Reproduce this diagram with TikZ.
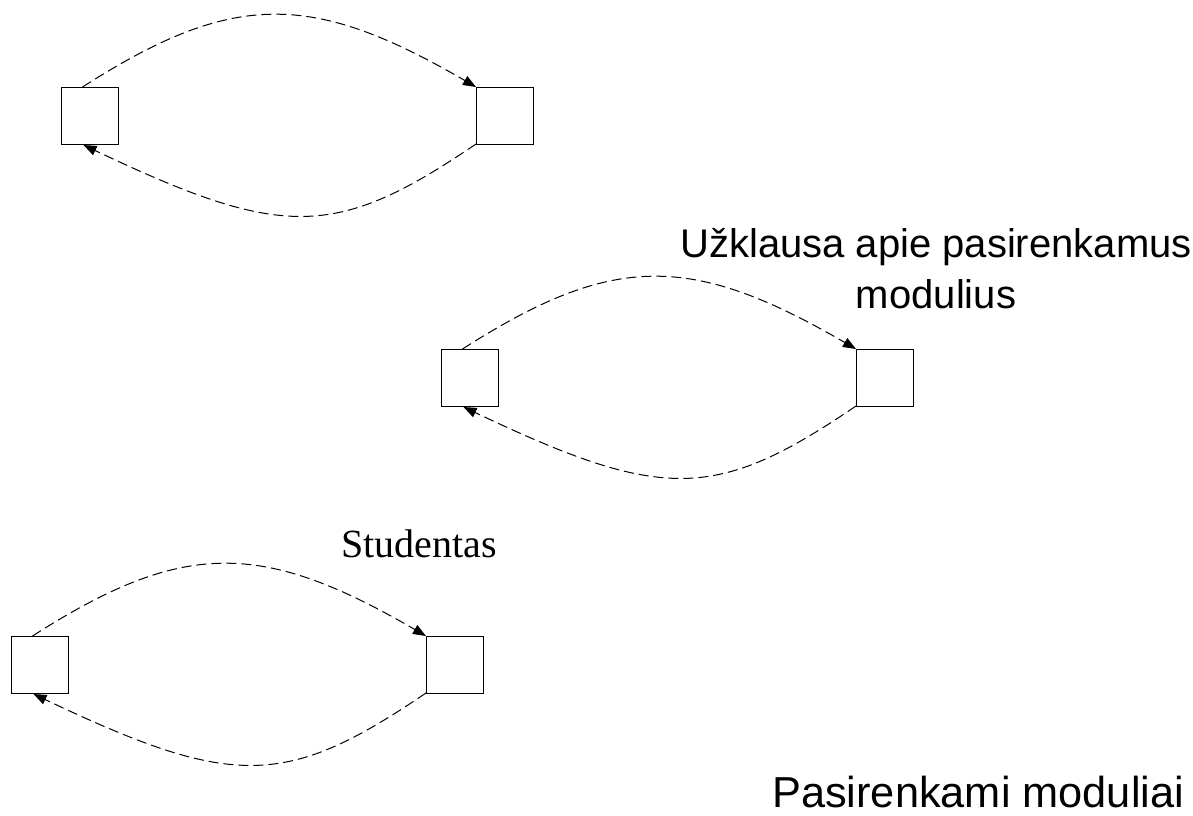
\documentclass[tikz,border=0pt]{standalone}
\usepackage{fontspec}
\setmainfont{Liberation Serif}
\newfontfamily\labelsans{Liberation Sans}
\usetikzlibrary{arrows.meta,calc}

\begin{document}
\begin{tikzpicture}[x=0.75pt,y=-0.75pt,
  box/.style={draw=black,line width=0.75pt,fill=white,minimum size=42.75pt,inner sep=0pt,outer sep=0pt},
  flow/.style={draw=black,line width=0.75pt,dash pattern=on 7.5pt off 3.75pt,
    -{Triangle[length=9.75pt,width=7.5pt]}},
  sanslabel/.style={font=\labelsans\fontsize{30}{38.25}\selectfont,inner sep=0pt,align=center},
  seriflabel/.style={font=\fontsize{30}{36}\selectfont,inner sep=0pt}]

  \useasboundingbox (0,0) rectangle (1193,815);

  % three pairs of boxes, each with a request arc above and a reply arc below
  \foreach \n/\dx/\dy in {1/0/0, 2/380/262, 3/-50/549} {
    \node[box] (L\n) at (89.5+\dx,115.5+\dy) {};
    \node[box] (R\n) at (504.5+\dx,115.5+\dy) {};
    \draw[flow] ($(L\n.north)+(-7,0)$) .. controls +(150,-96) and +(-165,-96) .. (R\n.north west);
    \draw[flow] (R\n.south west) .. controls +(-140,95) and +(200,95) .. ($(L\n.south)+(-6,1)$);
  }

  % base anchor of a multi-line node sits on its last line
  \node[sanslabel,anchor=base] (req) at (936,308) {Užklausa apie pasirenkamus\\modulius};
  \node[seriflabel,anchor=base west] (stud) at (341,557) {Studentas};
  \node[sanslabel,font=\labelsans\fontsize{32.5}{39}\selectfont,anchor=base west] (mods) at (772,807) {Pasirenkami moduliai};
\end{tikzpicture}
\end{document}
